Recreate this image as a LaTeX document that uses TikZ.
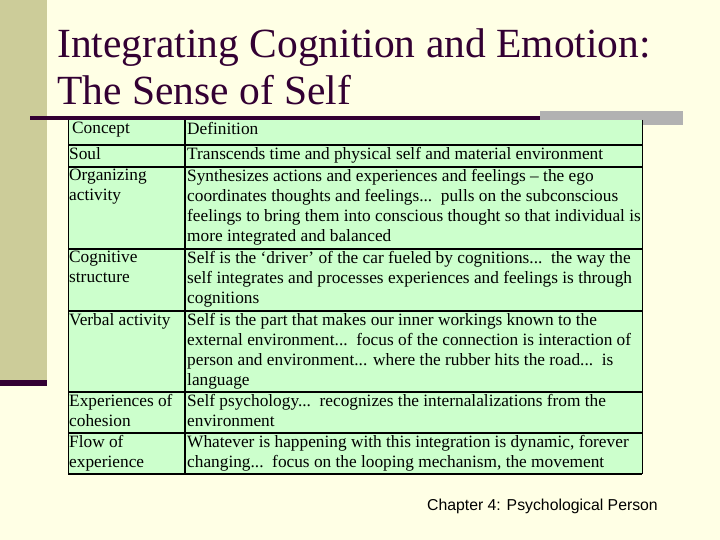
\documentclass[tikz,border=0pt]{standalone}
\usepackage{fontspec}
\setmainfont{Liberation Serif}
\newfontfamily\arialf{Liberation Sans}
\definecolor{bg}{HTML}{FFFFE5}
\definecolor{olive}{HTML}{CCCC99}
\definecolor{plum}{HTML}{330033}
\definecolor{cellg}{HTML}{CCFFCC}
\definecolor{greybar}{HTML}{B2B2B2}
\begin{document}
\begin{tikzpicture}[x=1pt,y=-1pt,
  cell/.style={anchor=north west,inner sep=0pt,align=left,font=\fontsize{17.3}{20.2}\selectfont,text depth=0pt},
  title/.style={anchor=base west,inner sep=0pt,text=plum,font=\fontsize{41.5}{44}\selectfont}]
\fill[bg] (0,0) rectangle (720,540);
\useasboundingbox (0,0) rectangle (720,540);
\fill[olive] (0,0) rectangle (47,380);
\fill[plum] (0,380) rectangle (47,386);
\fill[greybar] (540,111) rectangle (683,125);
\fill[plum] (30,116) rectangle (540,120);
\node[title] (t1) at (57,58) {Integrating Cognition and Emotion:};
\node[title] (t2) at (57,105) {The Sense of Self};
% table
\fill[cellg] (68,120) rectangle (642,474);
\draw[line width=0.8pt] (68,120) -- (68,474);
\draw[line width=1.2pt] (185,120) -- (185,474);
\draw[line width=0.6pt] (642,120) -- (642,474);
\foreach \y in {145,167,249,311,392,433,474} \draw[line width=1.2pt] (68,\y) -- (642,\y);
\node[cell] (c0) at (72,122) {Concept};
\node[cell] (d0) at (187,122) {Definition};
\node[cell] (c1) at (69,147) {Soul};
\node[cell] (d1) at (187,147) {Transcends time and physical self and material environment};
\node[cell] (c2) at (69,169) {Organizing\\activity};
\node[cell] (d2) at (187,169) {Synthesizes actions and experiences and feelings -- the ego\\coordinates thoughts and feelings...\ \ pulls on the subconscious\\feelings to bring them into conscious thought so that individual is\\more integrated and balanced};
\node[cell] (c3) at (69,251) {Cognitive\\structure};
\node[cell] (d3) at (187,251) {Self is the `driver' of the car fueled by cognitions...\ \ the way the\\self integrates and processes experiences and feelings is through\\cognitions};
\node[cell] (c4) at (69,313) {Verbal activity};
\node[cell] (d4) at (187,313) {Self is the part that makes our inner workings known to the\\external environment...\ \ focus of the connection is interaction of\\person and environment... where the rubber hits the road...\ \ is\\language};
\node[cell] (c5) at (69,394) {Experiences of\\cohesion};
\node[cell] (d5) at (187,394) {Self psychology...\ \ recognizes the internalalizations from the\\environment};
\node[cell] (c6) at (69,435) {Flow of\\experience};
\node[cell] (d6) at (187,435) {Whatever is happening with this integration is dynamic, forever\\changing...\ \ focus on the looping mechanism, the movement};
\node[anchor=base east,inner sep=0pt,font=\arialf\fontsize{15.8}{18}\selectfont] (foot) at (658,510) {Chapter 4: Psychological Person};
\end{tikzpicture}
\end{document}
